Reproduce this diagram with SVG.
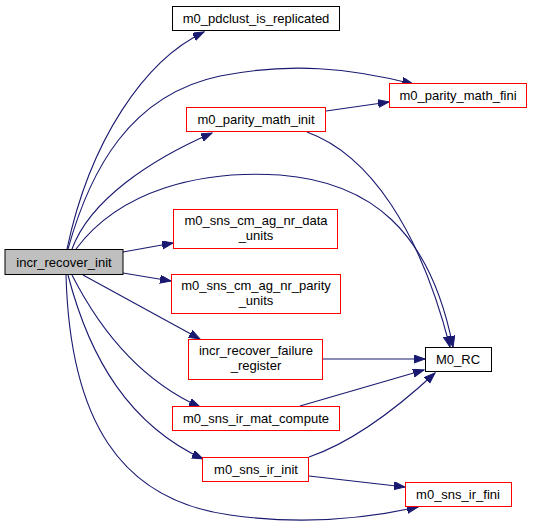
<svg xmlns="http://www.w3.org/2000/svg" width="533" height="531" viewBox="0 0 533 531">
<style>
.n rect{fill:#fff;stroke:#000;stroke-width:1}
.n.r rect{stroke:#ff0000}
.n.root rect{fill:#bfbfbf}
.n text{font-family:"Liberation Sans",Arial,sans-serif;font-size:13px;text-anchor:middle;fill:#000}
#edges path{fill:none;stroke:#191970;stroke-width:1.1;marker-end:url(#ah)}
</style>
<defs>
<marker id="ah" markerUnits="userSpaceOnUse" markerWidth="12" markerHeight="10" refX="11" refY="4" orient="auto">
<path d="M0,0 L11,4 L0,8 z" fill="#191970" stroke="#191970" stroke-width="1"/>
</marker>
</defs>
<rect width="533" height="531" fill="#fff"/>
<g id="edges">
<path d="M67,249 C90,140 145,60 204,32"/>
<path d="M68,249 C90,170 130,95 220,76 C290,62 350,68 413,84"/>
<path d="M72,249 C90,200 150,160 212,133"/>
<path d="M76,249 C120,190 200,170 280,175 C370,182 430,230 453,347"/>
<path d="M307,132 C370,155 420,230 450,347"/>
<path d="M123,252 L173,243"/>
<path d="M123,273 L171,281"/>
<path d="M83,275 L200,339"/>
<path d="M72,275 C100,330 140,380 200,407"/>
<path d="M68,275 C90,360 130,425 203,459"/>
<path d="M66,275 C70,420 120,500 230,515 C300,525 360,520 418,507"/>
<path d="M309,476 L405,487"/>
<path d="M309,457 C350,443 395,410 435,373"/>
<path d="M300,406 L424,370"/>
<path d="M323,359 L425,359"/>
<path d="M326,111 L389,102"/>
</g>
<g id="incr_recover_init" class="n root"><rect x="5" y="249.5" width="118" height="25"/><text x="64" y="266.5">incr_recover_init</text></g>
<g id="m0_pdclust_is_replicated" class="n"><rect x="172.5" y="6.5" width="167" height="24"/><text x="256" y="23">m0_pdclust_is_replicated</text></g>
<g id="m0_parity_math_init" class="n r"><rect x="186.5" y="107.5" width="139" height="24"/><text x="256" y="124">m0_parity_math_init</text></g>
<g id="m0_parity_math_fini" class="n r"><rect x="389.5" y="83.5" width="137" height="24"/><text x="458" y="100">m0_parity_math_fini</text></g>
<g id="m0_sns_cm_ag_nr_data_units" class="n r"><rect x="173.5" y="209.5" width="164" height="39"/><text x="256" y="225">m0_sns_cm_ag_nr_data</text><text x="256" y="240">_units</text></g>
<g id="m0_sns_cm_ag_nr_parity_units" class="n r"><rect x="171.5" y="274.5" width="169" height="39"/><text x="256" y="290">m0_sns_cm_ag_nr_parity</text><text x="256" y="305">_units</text></g>
<g id="incr_recover_failure_register" class="n r"><rect x="188.5" y="339.5" width="134" height="40"/><text x="256" y="355">incr_recover_failure</text><text x="256" y="370">_register</text></g>
<g id="m0_sns_ir_mat_compute" class="n r"><rect x="172.5" y="406.5" width="167" height="24"/><text x="256" y="423">m0_sns_ir_mat_compute</text></g>
<g id="m0_sns_ir_init" class="n r"><rect x="202.5" y="457.5" width="106" height="24"/><text x="256" y="474">m0_sns_ir_init</text></g>
<g id="M0_RC" class="n"><rect x="425.5" y="347.5" width="66" height="24"/><text x="458" y="364">M0_RC</text></g>
<g id="m0_sns_ir_fini" class="n r"><rect x="405.5" y="482.5" width="106" height="24"/><text x="458" y="499">m0_sns_ir_fini</text></g>
</svg>
